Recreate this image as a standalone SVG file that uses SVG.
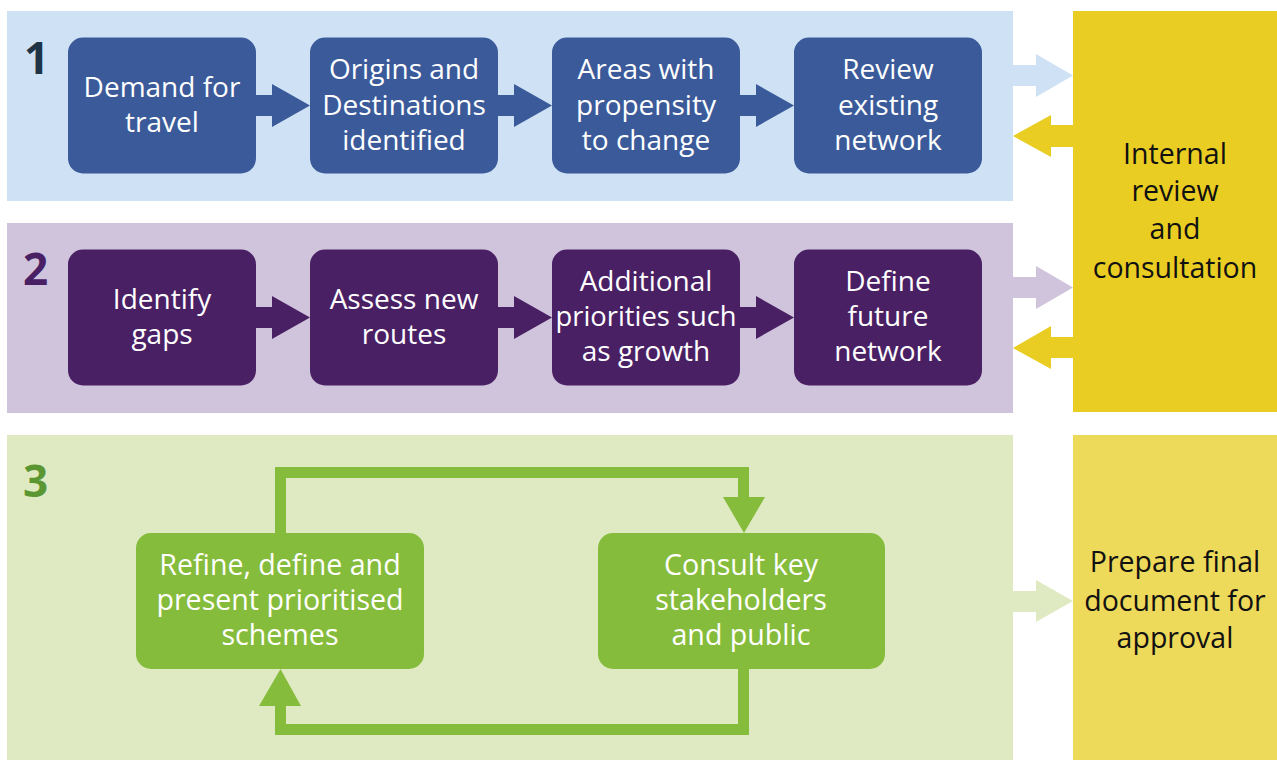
<svg xmlns="http://www.w3.org/2000/svg" width="1277" height="760" viewBox="0 0 1277 760">
<style>
text{font-family:"Open Sans","Noto Sans","DejaVu Sans",sans-serif;text-anchor:middle}
.bt{font-size:28px;fill:#ffffff}
.gt{font-size:28.6px;fill:#ffffff}
.yt{font-size:28.5px;fill:#111111}
.num{font-size:44px;font-weight:bold;text-anchor:start}
.b1{fill:#3B5A9A}
.b2{fill:#4A2065}
.b3{fill:#86BC3C}
</style>
<rect width="1277" height="760" fill="#ffffff"/>
<g id="panels">
<rect id="panel1" x="7" y="11" width="1006" height="190" fill="#CFE2F5"/>
<rect id="panel2" x="7" y="223" width="1006" height="190" fill="#D0C3DC"/>
<rect id="panel3" x="7" y="435" width="1006" height="325" fill="#E0EAC2"/>
<text class="num" x="24" y="74" fill="#1F3347">1</text>
<text class="num" x="23" y="285" fill="#4A2065">2</text>
<text class="num" x="23" y="497" fill="#5A9632">3</text>
</g>
<g id="connectors">
<polygon class="b1" points="256,95 272,95 272,84 310,105.5 272,127 272,116 256,116"/>
<polygon class="b1" points="498,95 514,95 514,84 552,105.5 514,127 514,116 498,116"/>
<polygon class="b1" points="740,95 756,95 756,84 794,105.5 756,127 756,116 740,116"/>
<polygon class="b2" points="256,307 272,307 272,296 310,317.5 272,339 272,328 256,328"/>
<polygon class="b2" points="498,307 514,307 514,296 552,317.5 514,339 514,328 498,328"/>
<polygon class="b2" points="740,307 756,307 756,296 794,317.5 756,339 756,328 740,328"/>
<polygon fill="#CFE2F5" points="1013,65 1036,65 1036,54 1073,75.5 1036,97 1036,86 1013,86"/>
<polygon fill="#EACD22" points="1073,125 1051,125 1051,115 1013,136 1051,157 1051,147 1073,147"/>
<polygon fill="#D0C3DC" points="1013,277 1036,277 1036,266 1073,287.5 1036,309 1036,298 1013,298"/>
<polygon fill="#EACD22" points="1073,337 1051,337 1051,326 1013,348 1051,369 1051,358 1073,358"/>
<polygon fill="#E0EAC2" points="1013,591 1036,591 1036,580 1073,601 1036,622 1036,612 1013,612"/>
<path class="b3" d="M275,533 L275,467 L749,467 L749,497 L765,497 L744,533 L723,497 L738,497 L738,478 L286,478 L286,533 Z"/>
<path class="b3" d="M738,669 L749,669 L749,735 L275,735 L275,706 L259,706 L280.5,669 L301,706 L286,706 L286,724 L738,724 Z"/>
</g>
<g id="node-demand">
<rect class="b1" x="68" y="37.5" width="188" height="136" rx="15"/>
<text class="bt" x="162" y="97">Demand for</text>
<text class="bt" x="162" y="132">travel</text>
</g>
<g id="node-origins">
<rect class="b1" x="310" y="37.5" width="188" height="136" rx="15"/>
<text class="bt" x="404" y="78.5">Origins and</text>
<text class="bt" x="404" y="114.5">Destinations</text>
<text class="bt" x="404" y="150">identified</text>
</g>
<g id="node-areas">
<rect class="b1" x="552" y="37.5" width="188" height="136" rx="15"/>
<text class="bt" x="646" y="78.5">Areas with</text>
<text class="bt" x="646" y="114.5">propensity</text>
<text class="bt" x="646" y="150">to change</text>
</g>
<g id="node-review">
<rect class="b1" x="794" y="37.5" width="188" height="136" rx="15"/>
<text class="bt" x="888" y="78.5">Review</text>
<text class="bt" x="888" y="114.5">existing</text>
<text class="bt" x="888" y="150">network</text>
</g>
<g id="node-gaps">
<rect class="b2" x="68" y="249.5" width="188" height="136" rx="15"/>
<text class="bt" x="162" y="308.5">Identify</text>
<text class="bt" x="162" y="344">gaps</text>
</g>
<g id="node-assess">
<rect class="b2" x="310" y="249.5" width="188" height="136" rx="15"/>
<text class="bt" x="404" y="308.5">Assess new</text>
<text class="bt" x="404" y="344">routes</text>
</g>
<g id="node-additional">
<rect class="b2" x="552" y="249.5" width="188" height="136" rx="15"/>
<text class="bt" x="646" y="290.5">Additional</text>
<text class="bt" x="646" y="325.5" textLength="181" lengthAdjust="spacingAndGlyphs">priorities such</text>
<text class="bt" x="646" y="361">as growth</text>
</g>
<g id="node-define">
<rect class="b2" x="794" y="249.5" width="188" height="136" rx="15"/>
<text class="bt" x="888" y="290.5">Define</text>
<text class="bt" x="888" y="325.5">future</text>
<text class="bt" x="888" y="361">network</text>
</g>
<g id="node-refine">
<rect class="b3" x="136" y="533" width="288" height="136" rx="15"/>
<text class="gt" x="280" y="575">Refine, define and</text>
<text class="gt" x="280" y="610">present prioritised</text>
<text class="gt" x="280" y="645">schemes</text>
</g>
<g id="node-consult">
<rect class="b3" x="598" y="533" width="287" height="136" rx="15"/>
<text class="gt" x="741" y="575">Consult key</text>
<text class="gt" x="741" y="610">stakeholders</text>
<text class="gt" x="741" y="645">and public</text>
</g>
<g id="node-internal">
<rect x="1073" y="11" width="204" height="401" fill="#EACD22"/>
<text class="yt" x="1175" y="164">Internal</text>
<text class="yt" x="1175" y="201">review</text>
<text class="yt" x="1175" y="239">and</text>
<text class="yt" x="1175" y="278">consultation</text>
</g>
<g id="node-prepare">
<rect x="1073" y="435" width="204" height="325" fill="#EDD95A"/>
<text class="yt" x="1175" y="572">Prepare final</text>
<text class="yt" x="1175" y="611">document for</text>
<text class="yt" x="1175" y="648">approval</text>
</g>
</svg>
